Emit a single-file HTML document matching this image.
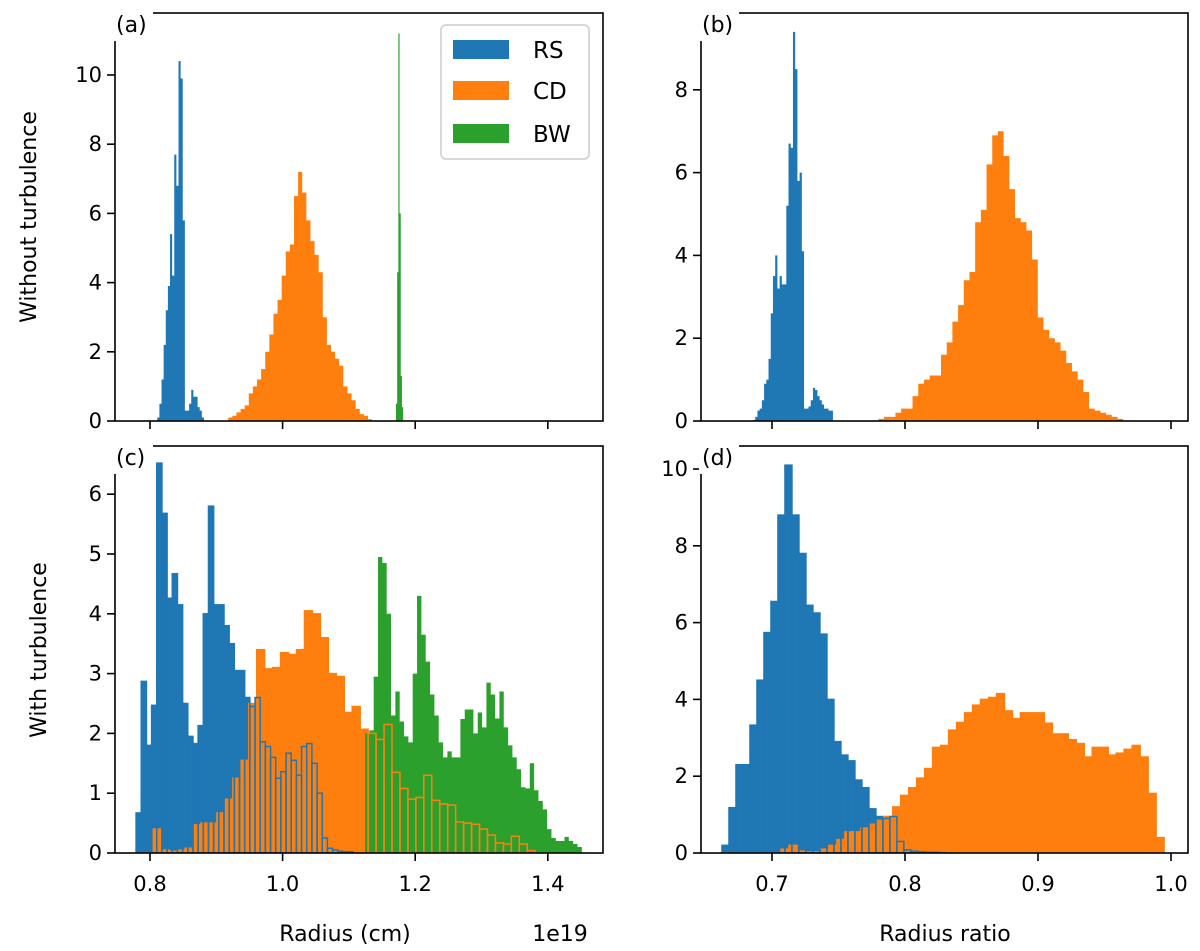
<!DOCTYPE html>
<html><head><meta charset="utf-8"><style>
html,body{margin:0;padding:0;background:#fff}
svg{display:block}
text{font-family:"DejaVu Sans","Liberation Sans",sans-serif;fill:#000}
</style></head><body>
<svg id="fig" width="1200" height="951" viewBox="0 0 1200 951" xmlns="http://www.w3.org/2000/svg"></svg>
<script>
// ---- data (bin start, bin width, densities) ----
const aRsStart=0.811, aRsWidth=0.0032;
const aRsValues=[0.1,0.5,1.2,2.2,3.2,3.9,5.4,4.2,7.7,6.8,10.4,9.9,5.8,0.3,0.3,0.5,0.9,0.7,0.7,0.4,0.3,0.1];
const aCdStart=0.918, aCdWidth=0.0062;
const aCdValues=[0.1,0.15,0.25,0.35,0.45,0.8,1.0,1.2,1.5,2.0,2.5,3.1,3.5,4.2,4.9,5.1,6.5,7.2,6.6,5.8,5.2,4.8,4.3,3.0,2.2,2.0,1.8,1.6,1.0,0.8,0.6,0.35,0.2,0.15,0.05];
const aBwStart=1.171, aBwWidth=0.0018;
const aBwValues=[0.5,4.3,11.2,6.0,1.3,0.4];

const bRsStart=0.6857, bRsWidth=0.00167;
const bRsValues=[0.02,0.1,0.25,0.3,0.5,0.9,1.0,1.5,2.6,3.5,4.0,3.2,3.5,3.3,3.3,5.2,6.7,6.6,9.4,8.5,5.8,6.0,4.1,0.3,0.3,0.35,0.5,0.8,0.75,0.6,0.5,0.4,0.3,0.3,0.25,0.25];
const bCdStart=0.780, bCdWidth=0.00428;
const bCdValues=[0.05,0.1,0.1,0.2,0.3,0.3,0.6,0.9,1.0,1.1,1.1,1.6,1.9,2.4,2.8,3.4,3.6,4.8,5.1,6.2,6.9,7.0,6.4,5.6,4.9,4.8,4.6,3.9,2.5,2.2,2.0,1.9,1.7,1.4,1.2,1.0,0.7,0.3,0.25,0.2,0.15,0.1,0.05];

const cRsStart=0.779, cRsWidth=0.0078;
const cRsValues=[0.67,2.87,1.8,2.47,6.52,5.68,4.26,4.67,4.15,2.5,1.95,1.83,2.13,4.0,5.8,4.15,4.15,3.8,3.5,3.05,3.05,2.6,2.45,2.6,1.86,1.78,1.6,1.25,1.36,1.67,1.55,1.3,1.78,1.83,1.5,1.0,0.25,0.08,0.05,0.03,0.02,0.02];
const cCdStart=0.805, cCdWidth=0.012;
const cCdValues=[0.4,0.05,0.03,0.05,0.08,0.47,0.5,0.5,0.67,0.9,1.25,1.55,2.5,3.4,3.08,3.1,3.35,3.32,3.4,4.05,4.0,3.6,3.0,2.95,2.35,2.45,2.07,2.0,1.9,2.15,1.35,1.08,0.9,0.93,1.3,0.88,0.82,0.8,0.52,0.5,0.48,0.4,0.3,0.17,0.15,0.28,0.15,0.04];
const cBwStart=1.1243, cBwWidth=0.00654;
const cBwValues=[2.0,2.05,2.95,4.95,4.85,4.0,2.3,2.7,2.2,1.95,1.85,3.0,4.3,3.65,3.2,2.65,2.3,1.85,1.6,1.7,1.6,1.6,2.24,2.4,2.4,2.0,2.35,2.1,2.85,2.65,2.25,2.7,2.1,1.8,1.6,1.4,1.1,1.08,1.5,1.05,0.87,0.73,0.4,0.25,0.2,0.2,0.27,0.2,0.15,0.1];

const dRsStart=0.6624, dRsWidth=0.00526;
const dRsValues=[0.2,1.18,2.3,2.3,3.33,4.5,5.74,6.55,8.8,10.1,8.8,7.8,6.45,6.25,5.7,4.0,2.9,2.55,2.4,1.9,1.7,1.15,0.95,0.9,0.95,0.3,0.08,0.05,0.03,0.02,0.02,0.01];
const dCdStart=0.7068, dCdWidth=0.006;
const dCdValues=[0.1,0.2,0.05,0.03,0.03,0.1,0.2,0.35,0.55,0.55,0.65,0.75,0.85,0.95,1.2,1.5,1.7,1.95,2.2,2.75,2.8,3.2,3.4,3.65,3.85,4.0,4.05,4.15,3.7,3.5,3.65,3.65,3.65,3.38,3.1,3.1,2.95,2.85,2.5,2.75,2.75,2.55,2.6,2.7,2.8,2.5,1.55,0.4];

const xTicksRadius=[0.8,1.0,1.2,1.4];
const xTickLabelsRadius=["0.8","1.0","1.2","1.4"];
const xTicksRatio=[0.7,0.8,0.9,1.0];
const xTickLabelsRatio=["0.7","0.8","0.9","1.0"];
const yTicksA=[0,2,4,6,8,10];
const yTicksB=[0,2,4,6,8];
const yTicksC=[0,1,2,3,4,5,6];
const yTicksD=[0,2,4,6,8,10];

const BLUE="#1f77b4", ORANGE="#ff7f0e", GREEN="#2ca02c";
const NS="http://www.w3.org/2000/svg";
const svg=document.getElementById('fig');
function mk(tag,attrs,parent){const e=document.createElementNS(NS,tag);for(const k in attrs)e.setAttribute(k,attrs[k]);(parent||svg).appendChild(e);return e;}

const axes={
 a:{l:115,r:603,t:13,b:421,x0:150,xv0:0.8,xs:663,ys:34.6},
 b:{l:701,r:1188,t:13,b:421,x0:772,xv0:0.7,xs:1330,ys:41.4},
 c:{l:115,r:603,t:446,b:853,x0:150,xv0:0.8,xs:663,ys:59.8},
 d:{l:701,r:1188,t:446,b:853,x0:772,xv0:0.7,xs:1330,ys:38.4}
};
function X(ax,v){return ax.x0+(v-ax.xv0)*ax.xs;}
function Y(ax,v){return ax.b-v*ax.ys;}

Object.keys(axes).forEach(k=>{
 const ax=axes[k];
 const cp=mk('clipPath',{id:'clip-'+k});
 mk('rect',{x:ax.l,y:ax.t,width:ax.r-ax.l,height:ax.b-ax.t},cp);
 ax.g=mk('g',{'clip-path':'url(#clip-'+k+')'});
 
 
});

function histFill(ax,start,width,vals,color,name){
 const g=mk('g',{},ax.g);
 
 
 let d='M'+X(ax,start)+','+ax.b;
 vals.forEach((v,i)=>{const x1=X(ax,start+i*width),x2=X(ax,start+(i+1)*width),y=Y(ax,v);d+=' L'+x1+','+y+' L'+x2+','+y;});
 d+=' L'+X(ax,start+vals.length*width)+','+ax.b+' Z';
 mk('path',{d:d,fill:color,stroke:'none'},g);
}
function histEdges(ax,start,width,vals,color,name){
 const g=mk('g',{},ax.g);
 
 
 vals.forEach((v,i)=>{
  const x1=X(ax,start+i*width),x2=X(ax,start+(i+1)*width),y=Y(ax,v);
  const r=mk('rect',{x:x1,y:y,width:Math.max(0,x2-x1),height:ax.b-y,fill:'none',stroke:color,'stroke-width':1.5},g);
  
  
 });
}

histFill(axes.a,aRsStart,aRsWidth,aRsValues,BLUE,'rs-hist-a');
histFill(axes.a,aCdStart,aCdWidth,aCdValues,ORANGE,'cd-hist-a');
histFill(axes.a,aBwStart,aBwWidth,aBwValues,GREEN,'bw-hist-a');
histFill(axes.b,bRsStart,bRsWidth,bRsValues,BLUE,'rs-hist-b');
histFill(axes.b,bCdStart,bCdWidth,bCdValues,ORANGE,'cd-hist-b');
histFill(axes.c,cRsStart,cRsWidth,cRsValues,BLUE,'rs-hist-c');
histFill(axes.c,cCdStart,cCdWidth,cCdValues,ORANGE,'cd-hist-c');
histFill(axes.c,cBwStart,cBwWidth,cBwValues,GREEN,'bw-hist-c');
histEdges(axes.c,cCdStart,cCdWidth,cCdValues,ORANGE,'cd-edges-c');
histEdges(axes.c,cRsStart,cRsWidth,cRsValues,BLUE,'rs-edges-c');
histFill(axes.d,dRsStart,dRsWidth,dRsValues,BLUE,'rs-hist-d');
histFill(axes.d,dCdStart,dCdWidth,dCdValues,ORANGE,'cd-hist-d');
histEdges(axes.d,dCdStart,dCdWidth,dCdValues,ORANGE,'cd-edges-d');
histEdges(axes.d,dRsStart,dRsWidth,dRsValues,BLUE,'rs-edges-d');

function decorate(k,xt,xl,yt,showXLabels){
 const ax=axes[k];
 const frame=mk('rect',{x:ax.l,y:ax.t,width:ax.r-ax.l,height:ax.b-ax.t,fill:'none',stroke:'#000','stroke-width':1.6});
 
 
 xt.forEach((v,i)=>{
  const x=X(ax,v);
  mk('line',{x1:x,y1:ax.b,x2:x,y2:ax.b+8,stroke:'#000','stroke-width':1.6});
  if(showXLabels){
   const t=mk('text',{x:x,y:ax.b+38,'text-anchor':'middle','font-size':21});
   t.textContent=xl[i];
   
   
  }
 });
 yt.forEach(v=>{
  const y=Y(ax,v);
  mk('line',{x1:ax.l-8,y1:y,x2:ax.l,y2:y,stroke:'#000','stroke-width':1.6});
  const t=mk('text',{x:ax.l-13,y:y+7,'text-anchor':'end','font-size':21});
  t.textContent=String(v);
  
  
 });
}
decorate('a',xTicksRadius,xTickLabelsRadius,yTicksA,false);
decorate('b',xTicksRatio,xTickLabelsRatio,yTicksB,false);
decorate('c',xTicksRadius,xTickLabelsRadius,yTicksC,true);
decorate('d',xTicksRatio,xTickLabelsRatio,yTicksD,true);

[['a','(a)'],['b','(b)'],['c','(c)'],['d','(d)']].forEach(([k,s])=>{
 const ax=axes[k];
 mk('rect',{x:ax.l-2,y:ax.t-10,width:40,height:38,fill:'#fff'});
 const t=mk('text',{x:ax.l+1,y:ax.t+19,'font-size':22});
 t.textContent=s;
 
 
});
</script>
<script>
(function(){
const svg=document.getElementById('fig');
const NS="http://www.w3.org/2000/svg";
function mk(tag,attrs,txt){const e=document.createElementNS(NS,tag);for(const k in attrs)e.setAttribute(k,attrs[k]);if(txt)e.textContent=txt;svg.appendChild(e);return e;}
let t;
t=mk('text',{x:0,y:0,'font-size':22,'text-anchor':'middle',transform:'translate(36,217) rotate(-90)'},'Without turbulence');


t=mk('text',{x:0,y:0,'font-size':22,'text-anchor':'middle',transform:'translate(46,650) rotate(-90)'},'With turbulence');


t=mk('text',{x:345,y:941,'font-size':22,'text-anchor':'middle'},'Radius (cm)');


t=mk('text',{x:560,y:941,'font-size':22,'text-anchor':'middle'},'1e19');


t=mk('text',{x:945,y:941,'font-size':22,'text-anchor':'middle'},'Radius ratio');


const lg=mk('rect',{x:441,y:25,width:148,height:134,rx:5,fill:'#fff','fill-opacity':0.8,stroke:'#ccc','stroke-width':1.5});


[['RS','#1f77b4',40],['CD','#ff7f0e',81],['BW','#2ca02c',124]].forEach(([s,c,y])=>{
 const r=mk('rect',{x:453,y:y,width:56,height:19,fill:c});
 
 
 const tx=mk('text',{x:533,y:y+18,'font-size':23},s);
 
 
});
})();
</script>
</body></html>
